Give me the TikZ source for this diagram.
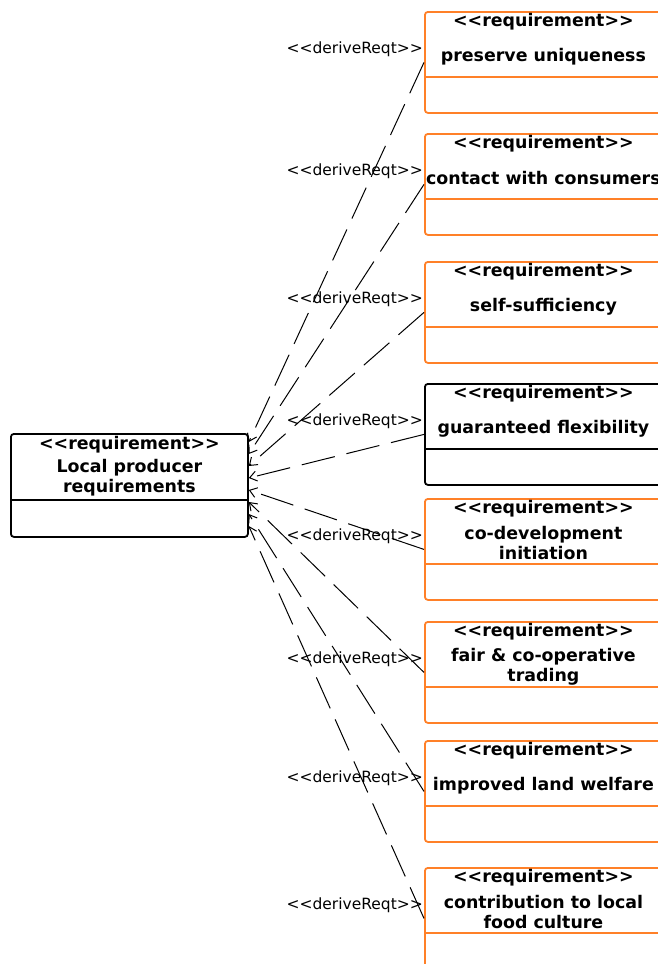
\documentclass[tikz,border=0pt]{standalone}
\usepackage{fontspec}
\setmainfont{DejaVu Sans}
\usetikzlibrary{calc,arrows.meta}
\definecolor{reqorange}{RGB}{255,128,40}

\tikzset{
  reqbox/.style={draw, rounded corners=3pt, line width=1.8pt,
    minimum width=237pt, minimum height=101pt, inner sep=0pt, anchor=north west},
  stereo/.style={font=\fontsize{17.4}{20}\selectfont\bfseries, inner sep=0pt},
  title/.style={font=\fontsize{17.4}{20}\selectfont\bfseries, align=center, inner sep=0pt},
  derive/.style={font=\fontsize{15.5}{18}\selectfont, anchor=east, inner sep=0pt},
  trace/.style={dash pattern=on 34pt off 12pt, line width=1pt,
    -{Straight Barb[length=7pt,width=10pt]}}
}

\begin{document}
\begin{tikzpicture}[x=1pt,y=-1pt]
\clip (0,0) rectangle (658,964);

% parent requirement
\node[reqbox, draw=black, minimum height=103pt] (L) at (10,433) {};
\draw[line width=1.8pt] ($(L.north west)+(0,67)$) -- ($(L.north east)+(0,67)$);
\node[stereo] (Ls) at ($(L.north)+(0,12)$) {<{}<requirement>{}>};
\node[title] (Lt) at ($(L.north)+(0,45)$) {Local producer\\requirements};

% derived requirements
\foreach \n/\ytop/\col/\txt in {
  1/11/reqorange/{preserve uniqueness},
  2/133/reqorange/{contact with consumers},
  3/261/reqorange/{self-sufficiency},
  4/383/black/{guaranteed flexibility},
  5/498/reqorange/{co-development\\initiation},
  6/621/reqorange/{fair \& co-operative\\trading},
  7/740/reqorange/{improved land welfare},
  8/867/reqorange/{contribution to local\\food culture}}{
  \node[reqbox, draw=\col] (r\n) at (424,\ytop) {};
  \draw[line width=1.8pt, draw=\col] ($(r\n.north west)+(0,66)$) -- ($(r\n.north east)+(0,66)$);
  \node[stereo] (s\n) at ($(r\n.north)+(0,10.5)$) {<{}<requirement>{}>};
  \node[title] (t\n) at ($(r\n.north)+(0,45.5)$) {\txt};
  \node[derive] (d\n) at ($(r\n.north west)+(-1,38)$) {<{}<deriveReqt>{}>};
  \coordinate (e\n) at ($(L.north east)+(0,{-3+12*\n})$);
  \draw[trace] (r\n.west) -- (e\n);
}
\end{tikzpicture}
\end{document}
